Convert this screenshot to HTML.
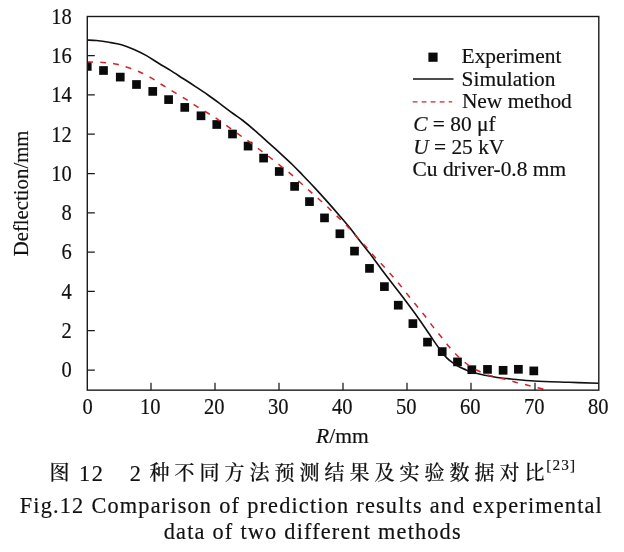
<!DOCTYPE html>
<html lang="zh"><head><meta charset="utf-8"><title>Fig.12</title>
<style>
html,body{margin:0;padding:0;background:#fff;}
body{width:624px;height:552px;overflow:hidden;position:relative;}
svg{position:absolute;left:0;top:0;display:block;will-change:transform;}
text{font-family:"Liberation Serif","Noto Serif CJK SC",serif;fill:#111;stroke:#111;stroke-width:0.18px;}
.tk{font-size:22.2px;}
.ax{font-size:21.5px;}
.lg{font-size:21.4px;}
.cap{font-size:22.3px;}
.cn{font-family:"Liberation Serif","Noto Serif CJK SC",serif;}
</style></head><body>
<svg width="624" height="552" viewBox="0 0 624 552">
<rect x="0" y="0" width="624" height="552" fill="#fff"/>
<defs><clipPath id="pc"><rect x="87.30" y="16.50" width="511.50" height="373.65"/></clipPath></defs>
<g clip-path="url(#pc)">
<rect x="82.90" y="62.05" width="8.7" height="8.7" fill="#0a0a0a"/>
<rect x="99.15" y="66.15" width="8.7" height="8.7" fill="#0a0a0a"/>
<rect x="115.90" y="72.75" width="8.7" height="8.7" fill="#0a0a0a"/>
<rect x="132.15" y="80.15" width="8.7" height="8.7" fill="#0a0a0a"/>
<rect x="148.40" y="87.05" width="8.7" height="8.7" fill="#0a0a0a"/>
<rect x="164.25" y="95.25" width="8.7" height="8.7" fill="#0a0a0a"/>
<rect x="180.40" y="103.05" width="8.7" height="8.7" fill="#0a0a0a"/>
<rect x="196.65" y="111.45" width="8.7" height="8.7" fill="#0a0a0a"/>
<rect x="212.40" y="120.15" width="8.7" height="8.7" fill="#0a0a0a"/>
<rect x="228.15" y="129.65" width="8.7" height="8.7" fill="#0a0a0a"/>
<rect x="243.75" y="141.75" width="8.7" height="8.7" fill="#0a0a0a"/>
<rect x="259.25" y="153.75" width="8.7" height="8.7" fill="#0a0a0a"/>
<rect x="274.90" y="167.15" width="8.7" height="8.7" fill="#0a0a0a"/>
<rect x="290.25" y="182.05" width="8.7" height="8.7" fill="#0a0a0a"/>
<rect x="305.15" y="197.25" width="8.7" height="8.7" fill="#0a0a0a"/>
<rect x="320.15" y="213.55" width="8.7" height="8.7" fill="#0a0a0a"/>
<rect x="335.55" y="229.40" width="8.7" height="8.7" fill="#0a0a0a"/>
<rect x="350.15" y="246.75" width="8.7" height="8.7" fill="#0a0a0a"/>
<rect x="365.15" y="264.05" width="8.7" height="8.7" fill="#0a0a0a"/>
<rect x="380.05" y="282.25" width="8.7" height="8.7" fill="#0a0a0a"/>
<rect x="393.90" y="300.85" width="8.7" height="8.7" fill="#0a0a0a"/>
<rect x="408.55" y="319.25" width="8.7" height="8.7" fill="#0a0a0a"/>
<rect x="423.15" y="337.75" width="8.7" height="8.7" fill="#0a0a0a"/>
<rect x="437.85" y="347.25" width="8.7" height="8.7" fill="#0a0a0a"/>
<rect x="453.15" y="357.55" width="8.7" height="8.7" fill="#0a0a0a"/>
<rect x="467.45" y="365.35" width="8.7" height="8.7" fill="#0a0a0a"/>
<rect x="483.15" y="365.05" width="8.7" height="8.7" fill="#0a0a0a"/>
<rect x="498.75" y="365.95" width="8.7" height="8.7" fill="#0a0a0a"/>
<rect x="514.05" y="364.95" width="8.7" height="8.7" fill="#0a0a0a"/>
<rect x="529.45" y="366.55" width="8.7" height="8.7" fill="#0a0a0a"/>
<path d="M87.25 40.00 C88.79 40.08 92.88 40.12 96.50 40.50 C100.12 40.88 104.83 41.54 109.00 42.25 C113.17 42.96 117.33 43.56 121.50 44.75 C125.67 45.94 129.83 47.59 134.00 49.40 C138.17 51.21 142.33 53.25 146.50 55.60 C150.67 57.95 155.00 61.03 159.00 63.50 C163.00 65.97 166.50 67.90 170.50 70.40 C174.50 72.90 178.83 75.80 183.00 78.50 C187.17 81.20 191.33 83.85 195.50 86.60 C199.67 89.35 203.83 92.08 208.00 95.00 C212.17 97.92 216.33 101.02 220.50 104.10 C224.67 107.18 229.33 110.81 233.00 113.50 C236.67 116.19 238.83 117.40 242.50 120.25 C246.17 123.10 250.83 126.99 255.00 130.60 C259.17 134.21 263.33 138.15 267.50 141.90 C271.67 145.65 275.83 149.29 280.00 153.10 C284.17 156.91 288.75 161.10 292.50 164.75 C296.25 168.40 298.75 171.11 302.50 175.00 C306.25 178.89 310.83 183.62 315.00 188.10 C319.17 192.58 323.33 197.21 327.50 201.90 C331.67 206.59 336.25 211.88 340.00 216.25 C343.75 220.62 347.17 224.60 350.00 228.10 C352.83 231.60 353.75 233.08 357.00 237.25 C360.25 241.42 365.33 247.64 369.50 253.10 C373.67 258.56 378.17 264.89 382.00 270.00 C385.83 275.11 388.67 278.75 392.50 283.75 C396.33 288.75 400.83 294.48 405.00 300.00 C409.17 305.52 413.48 311.27 417.50 316.90 C421.52 322.52 426.27 329.58 429.10 333.75 C431.93 337.92 432.56 339.09 434.50 341.90 C436.44 344.71 438.67 347.90 440.75 350.60 C442.83 353.30 444.92 356.02 447.00 358.10 C449.08 360.18 451.17 361.63 453.25 363.10 C455.33 364.57 457.42 365.79 459.50 366.90 C461.58 368.01 463.67 368.86 465.75 369.75 C467.83 370.64 469.92 371.58 472.00 372.25 C474.08 372.92 476.17 373.25 478.25 373.75 C480.33 374.25 482.21 374.79 484.50 375.25 C486.79 375.71 489.50 376.07 492.00 376.50 C494.50 376.93 496.30 377.38 499.50 377.80 C502.70 378.22 505.40 378.47 511.20 379.00 C517.00 379.53 524.67 380.45 534.30 381.00 C543.93 381.55 558.27 381.92 569.00 382.30 C579.73 382.68 593.75 383.13 598.70 383.30" fill="none" stroke="#111" stroke-width="1.65"/>
<path d="M87.25 61.90 C89.83 62.00 98.08 62.15 102.75 62.50 C107.42 62.85 111.08 63.17 115.25 64.00 C119.42 64.83 123.58 66.12 127.75 67.50 C131.92 68.88 136.29 70.48 140.25 72.25 C144.21 74.02 147.81 75.97 151.50 78.10 C155.19 80.22 158.72 82.70 162.40 85.00 C166.08 87.30 169.85 89.63 173.60 91.90 C177.35 94.17 181.25 96.32 184.90 98.60 C188.55 100.88 191.86 103.28 195.50 105.60 C199.14 107.92 203.10 110.25 206.75 112.50 C210.40 114.75 212.03 115.42 217.40 119.10 C222.78 122.78 233.67 130.80 239.00 134.60 C244.33 138.40 245.94 139.38 249.40 141.90 C252.86 144.43 256.32 147.15 259.75 149.75 C263.18 152.35 266.58 154.86 270.00 157.50 C273.42 160.14 276.96 163.00 280.25 165.60 C283.54 168.20 286.42 170.28 289.75 173.10 C293.08 175.92 296.94 179.53 300.25 182.50 C303.56 185.47 306.48 188.11 309.60 190.90 C312.73 193.69 315.87 196.44 319.00 199.25 C322.13 202.06 325.27 204.81 328.40 207.75 C331.52 210.69 334.63 213.88 337.75 216.90 C340.87 219.93 343.99 222.63 347.10 225.90 C350.21 229.17 353.33 233.11 356.40 236.50 C359.47 239.89 362.58 243.00 365.50 246.25 C368.42 249.50 371.05 252.83 373.90 256.00 C376.75 259.17 379.68 262.08 382.60 265.25 C385.52 268.42 388.57 271.79 391.40 275.00 C394.23 278.21 396.82 281.12 399.60 284.50 C402.38 287.88 405.33 291.79 408.10 295.25 C410.88 298.71 413.53 301.92 416.25 305.25 C418.97 308.58 421.64 311.73 424.40 315.25 C427.16 318.77 430.07 322.91 432.80 326.40 C435.53 329.89 438.02 332.72 440.80 336.20 C443.58 339.68 446.70 343.95 449.50 347.25 C452.30 350.55 454.75 353.25 457.60 356.00 C460.45 358.75 463.37 361.38 466.60 363.75 C469.83 366.12 473.39 368.33 477.00 370.25 C480.61 372.17 485.58 374.26 488.25 375.25 C490.92 376.24 491.29 375.78 493.00 376.20 C494.71 376.62 496.50 377.25 498.50 377.75 C500.50 378.25 501.75 378.34 505.00 379.20 C508.25 380.06 513.67 381.77 518.00 382.90 C522.33 384.03 527.00 385.02 531.00 386.00 C535.00 386.98 539.67 388.20 542.00 388.80 C544.33 389.40 544.50 389.47 545.00 389.60" fill="none" stroke="#d2232a" stroke-width="1.5" stroke-dasharray="5.8 7.18"/>
</g>
<rect x="87.30" y="16.50" width="511.50" height="373.65" fill="none" stroke="#1a1a1a" stroke-width="1.4"/>
<path d="M87.30 370.00h7.5M87.30 330.70h7.5M87.30 291.40h7.5M87.30 252.10h7.5M87.30 212.80h7.5M87.30 173.50h7.5M87.30 134.20h7.5M87.30 94.90h7.5M87.30 55.60h7.5M151.00 390.15v-7.5M215.00 390.15v-7.5M279.00 390.15v-7.5M343.00 390.15v-7.5M407.00 390.15v-7.5M471.00 390.15v-7.5M535.00 390.15v-7.5" fill="none" stroke="#1a1a1a" stroke-width="1.25"/>
<text class="tk" transform="translate(71.8 377.35) scale(0.925 1)" text-anchor="end">0</text>
<text class="tk" transform="translate(71.8 338.05) scale(0.925 1)" text-anchor="end">2</text>
<text class="tk" transform="translate(71.8 298.75) scale(0.925 1)" text-anchor="end">4</text>
<text class="tk" transform="translate(71.8 259.45) scale(0.925 1)" text-anchor="end">6</text>
<text class="tk" transform="translate(71.8 220.15) scale(0.925 1)" text-anchor="end">8</text>
<text class="tk" transform="translate(71.8 180.85) scale(0.925 1)" text-anchor="end">10</text>
<text class="tk" transform="translate(71.8 141.55) scale(0.925 1)" text-anchor="end">12</text>
<text class="tk" transform="translate(71.8 102.25) scale(0.925 1)" text-anchor="end">14</text>
<text class="tk" transform="translate(71.8 62.95) scale(0.925 1)" text-anchor="end">16</text>
<text class="tk" transform="translate(71.8 23.65) scale(0.925 1)" text-anchor="end">18</text>
<text class="tk" transform="translate(87.60 413.5) scale(0.925 1)" text-anchor="middle">0</text>
<text class="tk" transform="translate(150.30 413.5) scale(0.925 1)" text-anchor="middle">10</text>
<text class="tk" transform="translate(214.30 413.5) scale(0.925 1)" text-anchor="middle">20</text>
<text class="tk" transform="translate(278.30 413.5) scale(0.925 1)" text-anchor="middle">30</text>
<text class="tk" transform="translate(342.30 413.5) scale(0.925 1)" text-anchor="middle">40</text>
<text class="tk" transform="translate(406.30 413.5) scale(0.925 1)" text-anchor="middle">50</text>
<text class="tk" transform="translate(470.30 413.5) scale(0.925 1)" text-anchor="middle">60</text>
<text class="tk" transform="translate(534.30 413.5) scale(0.925 1)" text-anchor="middle">70</text>
<text class="tk" transform="translate(598.30 413.5) scale(0.925 1)" text-anchor="middle">80</text>
<text class="ax" transform="translate(27.7 193.4) rotate(-90) scale(0.945 1)" text-anchor="middle" style="font-size:22px">Deflection/mm</text>
<text class="ax" x="342.4" y="442.7" text-anchor="middle"><tspan font-style="italic">R</tspan>/mm</text>
<rect x="428.4" y="52.6" width="9.2" height="9.2" fill="#0a0a0a"/>
<path d="M413 79H453.5" stroke="#111" stroke-width="1.5" fill="none"/>
<path d="M412.7 101.8H452.2" stroke="#d2232a" stroke-width="1.3" stroke-dasharray="4.8 4.2" fill="none"/>
<text class="lg" x="461.6" y="62.9">Experiment</text>
<text class="lg" x="461.6" y="85.7">Simulation</text>
<text class="lg" x="461.9" y="108.1">New method</text>
<text class="lg" x="413.2" y="131.2"><tspan font-style="italic">C</tspan> = 80 μf</text>
<text class="lg" x="413.2" y="154"><tspan font-style="italic">U</tspan> = 25 kV</text>
<text class="lg" x="412.6" y="175.9">Cu driver-0.8 mm</text>
<text id="cn" class="cap cn" y="481"><tspan x="49.4" y="479.9" style="font-size:20px;font-weight:500">图</tspan><tspan x="78.9" y="481" style="letter-spacing:1.7px">12</tspan><tspan x="129.8" y="481">2</tspan><tspan x="149.4" y="479.9" style="font-size:20px;font-weight:500;letter-spacing:5px">种不同方法预测结果及实验数据对比</tspan><tspan x="546.3" y="470" style="font-size:15.2px;letter-spacing:1.15px">[23]</tspan></text>
<text id="en1" class="cap" x="19.8" y="512.5" style="letter-spacing:1.17px;word-spacing:0.3px">Fig.12 Comparison of prediction results and experimental</text>
<text id="en2" class="cap" x="163.8" y="538.6" style="letter-spacing:1.15px;word-spacing:0.3px">data of two different methods</text>
</svg>
</body></html>
